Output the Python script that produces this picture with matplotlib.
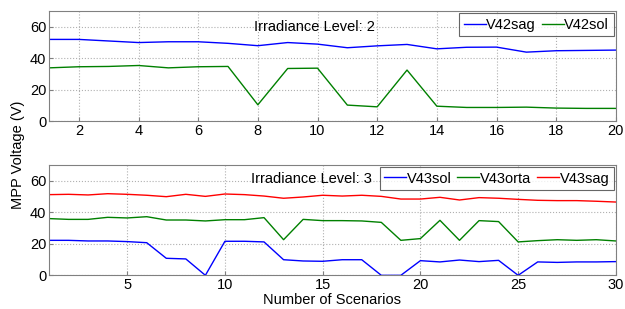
import numpy as np
import matplotlib.pyplot as plt

plt.rcParams['font.family'] = ['Liberation Sans', 'DejaVu Sans']
plt.rcParams['font.size'] = 10.5

# irradiance level 2
x2 = list(range(1, 21))
v42sag = [52, 52, 51, 50, 50.5, 50.5, 49.5, 48, 50, 49,
          46.7, 47.9, 48.8, 46, 47, 47.1, 43.9, 44.8, 45, 45.2]
v42sol = [33.9, 34.6, 34.8, 35.4, 33.9, 34.6, 34.8, 10.4, 33.5, 33.7,
          10.2, 9.1, 32.5, 9.5, 8.7, 8.7, 8.9, 8.3, 8.1, 8.1]

# irradiance level 3
x3 = list(range(1, 31))
v43sol = [22.2, 22.2, 21.8, 21.8, 21.4, 20.7, 10.8, 10.4, 0, 21.6,
          21.6, 21.2, 9.9, 9.1, 8.9, 9.9, 9.9, 0, 0, 9.3,
          8.5, 9.7, 8.7, 9.5, 0, 8.5, 8.2, 8.5, 8.5, 8.7]
v43orta = [36, 35.5, 35.5, 36.8, 36.4, 37.2, 35.1, 35.1, 34.5, 35.3,
           35.3, 36.6, 22.6, 35.5, 34.7, 34.7, 34.5, 33.6, 22.2, 23.3,
           34.9, 22.2, 34.7, 34.1, 21.2, 22, 22.6, 22.2, 22.6, 21.8]
v43sag = [51.2, 51.4, 51, 51.8, 51.4, 50.8, 49.9, 51.4, 50.1, 51.6,
          51.2, 50.3, 48.9, 49.7, 50.8, 50.3, 50.8, 50.1, 48.4, 48.4,
          49.5, 47.8, 49.3, 48.9, 48.2, 47.6, 47.4, 47.4, 47, 46.5]

fig = plt.figure(figsize=(6.25, 3.09), dpi=100)
ax1 = fig.add_axes([0.0784, 0.608, 0.907, 0.356])
ax2 = fig.add_axes([0.0784, 0.109, 0.907, 0.357])


def style(ax, xmax, xticks):
    ax.set_ylim(0, 70)
    ax.set_yticks([0, 20, 40, 60])
    ax.set_xlim(1, xmax)
    ax.set_xticks(xticks)
    ax.grid(True, linestyle=':', color='#b0b0b0', linewidth=0.8)
    ax.tick_params(direction='in', length=3, color='#808080', pad=2)
    for s in ax.spines.values():
        s.set_color('#808080')
        s.set_linewidth(0.8)


leg_kw = dict(loc='upper right', frameon=True, fancybox=False,
              edgecolor='#404040', handlelength=1.5, handletextpad=0.05,
              columnspacing=0.4, borderpad=0.3, borderaxespad=0.15)

ax1.plot(x2, v42sag, color='#0000ff', lw=1, label='V42sag')
ax1.plot(x2, v42sol, color='#008000', lw=1, label='V42sol')
style(ax1, 20, range(2, 21, 2))
ax1.text(0.575, 0.855, 'Irradiance Level: 2', transform=ax1.transAxes,
         ha='right', va='center')
leg1 = ax1.legend(ncol=2, **leg_kw)
leg1.get_frame().set_linewidth(0.8)

ax2.plot(x3, v43sol, color='#0000ff', lw=1, label='V43sol')
ax2.plot(x3, v43orta, color='#008000', lw=1, label='V43orta')
ax2.plot(x3, v43sag, color='#ff0000', lw=1, label='V43sag')
style(ax2, 30, range(5, 31, 5))
ax2.text(0.569, 0.87, 'Irradiance Level: 3', transform=ax2.transAxes,
         ha='right', va='center')
leg2 = ax2.legend(ncol=3, **leg_kw)
leg2.get_frame().set_linewidth(0.8)
ax2.set_xlabel('Number of Scenarios', labelpad=1)

fig.text(0.029, 0.5, 'MPP Voltage (V)', rotation=90, ha='center', va='center')

fig.savefig('out.png', dpi=100)
